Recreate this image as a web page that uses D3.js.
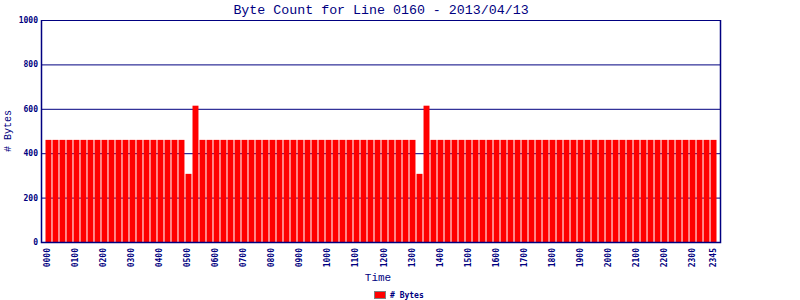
<!DOCTYPE html>
<html>
<head>
<meta charset="utf-8">
<script src="https://cdn.jsdelivr.net/npm/d3@7"></script>
<style>
  body { margin: 0; background: #fff; }
  svg text { fill: #000080; }
</style>
</head>
<body>
<svg id="chart" width="800" height="300"></svg>
<script>
// time slots, every 15 minutes
const times = ["0000","0015","0030","0045","0100","0115","0130","0145","0200","0215","0230","0245",
  "0300","0315","0330","0345","0400","0415","0430","0445","0500","0515","0530","0545",
  "0600","0615","0630","0645","0700","0715","0730","0745","0800","0815","0830","0845",
  "0900","0915","0930","0945","1000","1015","1030","1045","1100","1115","1130","1145",
  "1200","1215","1230","1245","1300","1315","1330","1345","1400","1415","1430","1445",
  "1500","1515","1530","1545","1600","1615","1630","1645","1700","1715","1730","1745",
  "1800","1815","1830","1845","1900","1915","1930","1945","2000","2015","2030","2045",
  "2100","2115","2130","2145","2200","2215","2230","2245","2300","2315","2330","2345"];

const bytes = [460,460,460,460,460,460,460,460,460,460,460,460,
  460,460,460,460,460,460,460,460,307,614,460,460,
  460,460,460,460,460,460,460,460,460,460,460,460,
  460,460,460,460,460,460,460,460,460,460,460,460,
  460,460,460,460,460,307,614,460,460,460,460,460,
  460,460,460,460,460,460,460,460,460,460,460,460,
  460,460,460,460,460,460,460,460,460,460,460,460,
  460,460,460,460,460,460,460,460,460,460,460,460];

const xTickLabels = ["0000","0100","0200","0300","0400","0500","0600","0700","0800","0900","1000","1100",
  "1200","1300","1400","1500","1600","1700","1800","1900","2000","2100","2200","2300","2345"];
const yTicks = [0, 200, 400, 600, 800, 1000];

const navy = "#000080";
const svg = d3.select("#chart");
const plotL = 42, plotR = 720, plotT = 20, plotB = 242;

let x = d3.scaleBand().domain(times).range([plotL, plotR]).paddingInner(0.15).paddingOuter(0.5);
let y = d3.scaleLinear().domain([0, 1000]).range([plotB, plotT]);

// gridlines behind bars
svg.append("g").selectAll("line")
    .data(yTicks.filter(d => d > 0))
    .enter().append("line")
    .attr("x1", plotL).attr("x2", plotR)
    .attr("y1", d => y(d) + 0.5).attr("y2", d => y(d) + 0.5)
    .attr("stroke", navy).attr("stroke-width", 1);

svg.append("g").selectAll("rect")
    .data(bytes)
    .enter().append("rect")
    .attr("x", (d, i) => x(times[i]))
    .attr("width", x.bandwidth())
    .attr("y", d => y(d))
    .attr("height", d => plotB - y(d))
    .attr("fill", "#ff0000");

// frame: left, bottom, right
svg.append("path")
    .attr("d", `M${plotL - 0.5},${plotT} V${plotB + 0.5} H${plotR + 0.5} V${plotT}`)
    .attr("fill", "none").attr("stroke", navy).attr("stroke-width", 1.5);

// y tick labels
svg.append("g").selectAll("text")
    .data(yTicks)
    .enter().append("text")
    .attr("x", 38).attr("y", d => y(d) + 3)
    .attr("text-anchor", "end")
    .style("font", "bold 8px 'DejaVu Sans Mono', monospace")
    .text(d => d);

// x tick labels (rotated)
svg.append("g").selectAll("text")
    .data(xTickLabels)
    .enter().append("text")
    .attr("transform", d => `translate(${x(d) + x.bandwidth() / 2 + 2},248) rotate(-90)`)
    .attr("text-anchor", "end")
    .style("font", "bold 8px 'DejaVu Sans Mono', monospace")
    .text(d => d);

// title
svg.append("text")
    .attr("x", 381).attr("y", 14)
    .attr("text-anchor", "middle")
    .style("font", "13.3px 'Liberation Mono', monospace")
    .text("Byte Count for Line 0160 - 2013/04/13");

// axis titles
svg.append("text")
    .attr("transform", "translate(11,131) rotate(-90)")
    .attr("text-anchor", "middle")
    .style("font", "10px 'Liberation Mono', monospace")
    .text("# Bytes");

svg.append("text")
    .attr("x", 378).attr("y", 281)
    .attr("text-anchor", "middle")
    .style("font", "11px 'Liberation Mono', monospace")
    .text("Time");

// legend
svg.append("rect")
    .attr("x", 374.5).attr("y", 291.5).attr("width", 11).attr("height", 7)
    .attr("fill", "#ff0000").attr("stroke", "#808080").attr("stroke-width", 1);
svg.append("text")
    .attr("x", 390).attr("y", 298)
    .style("font", "bold 8px 'DejaVu Sans Mono', monospace")
    .text("# Bytes");
</script>
</body>
</html>
